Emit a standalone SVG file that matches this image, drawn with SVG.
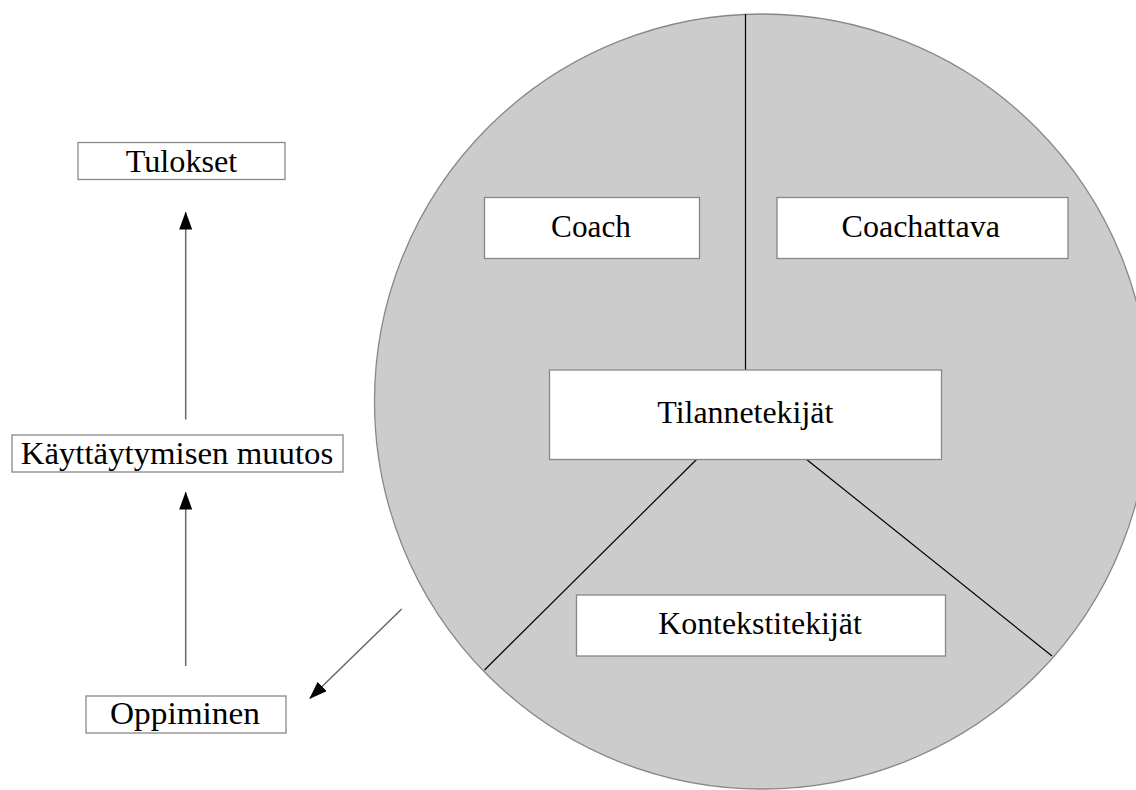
<svg xmlns="http://www.w3.org/2000/svg" width="1136" height="790" viewBox="0 0 1136 790">
<style>
.box{fill:#fff;stroke:#888;stroke-width:1.3}
.t{font-family:"Liberation Serif","Times New Roman",serif;font-size:31px;fill:#000;text-anchor:middle}
.div{stroke:#000;stroke-width:1.2;fill:none}
.arr{stroke:#666;stroke-width:1.5;fill:none}
</style>
<defs>
<marker id="ah" viewBox="0 0 18 13" refX="17" refY="6.5" markerWidth="18" markerHeight="13" markerUnits="userSpaceOnUse" orient="auto">
<path d="M0,0 L18,6.5 L0,13 Z" fill="#000"/>
</marker>
</defs>
<rect width="1136" height="790" fill="#fff"/>
<g id="circle">
<circle cx="762" cy="401.5" r="387.5" fill="#cccccc" stroke="#888" stroke-width="1.3"/>
</g>
<g id="connectors">
<line class="div" x1="745.5" y1="14" x2="745.5" y2="370"/>
<line class="div" x1="697" y1="459" x2="484.5" y2="670"/>
<line class="div" x1="806" y1="459" x2="1052" y2="656"/>
<line class="arr" x1="185.7" y1="419.5" x2="185.7" y2="212.5" marker-end="url(#ah)"/>
<line class="arr" x1="185.7" y1="666" x2="185.7" y2="492.5" marker-end="url(#ah)"/>
<line class="arr" x1="401.7" y1="609" x2="310" y2="698.3" marker-end="url(#ah)"/>
</g>
<g id="tulokset">
<rect class="box" x="78" y="142.5" width="207" height="37"/>
<text class="t" x="181.5" y="171.5" textLength="111.6" lengthAdjust="spacingAndGlyphs">Tulokset</text>
</g>
<g id="kayttaytyminen">
<rect class="box" x="12" y="435" width="331" height="37"/>
<text class="t" x="177" y="464" textLength="312.6" lengthAdjust="spacingAndGlyphs">Käyttäytymisen muutos</text>
</g>
<g id="oppiminen">
<rect class="box" x="86" y="696" width="200" height="37"/>
<text class="t" x="185" y="723.5" textLength="150" lengthAdjust="spacingAndGlyphs">Oppiminen</text>
</g>
<g id="coach">
<rect class="box" x="484.5" y="197.5" width="215" height="61"/>
<text class="t" x="591" y="236.7" textLength="79.8" lengthAdjust="spacingAndGlyphs">Coach</text>
</g>
<g id="coachattava">
<rect class="box" x="777" y="197.5" width="291" height="61"/>
<text class="t" x="920.7" y="236.7" textLength="158.4" lengthAdjust="spacingAndGlyphs">Coachattava</text>
</g>
<g id="tilannetekijat">
<rect class="box" x="549.5" y="370" width="392" height="89.5"/>
<text class="t" x="745.3" y="423.3" textLength="176" lengthAdjust="spacingAndGlyphs">Tilannetekijät</text>
</g>
<g id="kontekstitekijat">
<rect class="box" x="576.5" y="595" width="369" height="61"/>
<text class="t" x="760" y="634" textLength="203.6" lengthAdjust="spacingAndGlyphs">Kontekstitekijät</text>
</g>
</svg>
